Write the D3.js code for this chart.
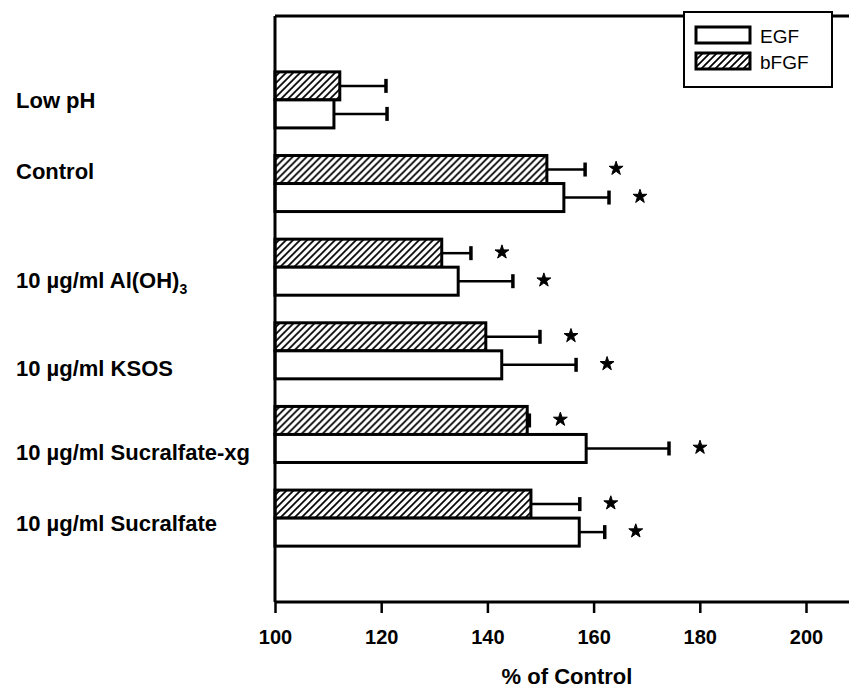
<!DOCTYPE html>
<html>
<head>
<meta charset="utf-8">
<script src="https://cdn.jsdelivr.net/npm/d3@7"></script>
<style>
  body { margin: 0; background: #fff; }
  svg text { font-family: "Liberation Sans", Arial, sans-serif; fill: #000; }
  .cat-label { font-size: 22px; font-weight: bold; }
  .x.axis text { font-size: 20px; font-weight: bold; }
  .x-title { font-size: 22px; font-weight: bold; }
  .legend text { font-size: 19px; }
</style>
</head>
<body>
<svg id="chart" width="849" height="688"></svg>
<script>
// Treatments, top to bottom
const categories = ['Low pH', 'Control', '10 µg/ml Al(OH)3', '10 µg/ml KSOS',
  '10 µg/ml Sucralfate-xg', '10 µg/ml Sucralfate'];
const series = ['bFGF', 'EGF'];

// % of control
const bfgfValues = [112.2, 151.2, 131.4, 139.7, 147.5, 148.2];
const bfgfErrors = [8.7, 7.2, 5.5, 10.2, 0.4, 9.2];
const egfValues = [111.1, 154.4, 134.5, 142.7, 158.6, 157.3];
const egfErrors = [10.0, 8.5, 10.3, 14.0, 15.6, 4.8];

// significance markers (*)
const bfgfStars = [false, true, true, true, true, true];
const egfStars = [false, true, true, true, true, true];

const xTicks = [100, 120, 140, 160, 180, 200];

// the row labels in the original sit a little off their bar pairs
const labelNudge = [0, -13, 13, 17, 18, 5];

const width = 849;
const margin = { top: 16, left: 275, bottom: 602 };

const svg = d3.select('#chart');

// Diagonal hatch for the bFGF bars
const defs = svg.append('defs');
defs.append('pattern')
  .attr('id', 'hatch')
  .attr('patternUnits', 'userSpaceOnUse')
  .attr('width', 7)
  .attr('height', 7)
  .append('path')
    .attr('d', 'M-1,8 L8,-1 M-1,1 L1,-1 M6,8 L8,6')
    .attr('stroke', '#000')
    .attr('stroke-width', 1.7);

// Build rows from the arrays
const rows = categories.map((c, i) => ({
  category: c,
  bFGF: { value: bfgfValues[i], error: bfgfErrors[i], star: bfgfStars[i] },
  EGF: { value: egfValues[i], error: egfErrors[i], star: egfStars[i] }
}));

const xScale = d3.scaleLinear()
  .domain([100, 200])
  .range([margin.left, 806]);

const yScale = d3.scaleBand()
  .domain(categories)
  .range([margin.top, margin.bottom])
  .paddingInner(0.33)
  .paddingOuter(0.668);

const subScale = d3.scaleBand()
  .domain(series)
  .range([0, yScale.bandwidth()]);

// Bars, error bars and stars
const groups = svg.append('g').attr('class', 'bars')
  .selectAll('g')
  .data(rows)
  .join('g')
    .attr('transform', (d) => `translate(0, ${ yScale(d.category) })`);

const items = groups.selectAll('g')
  .data((d) => series.map((s) => ({ key: s, ...d[s] })))
  .join('g');

items.append('rect')
  .attr('x', xScale(100))
  .attr('y', (d) => subScale(d.key))
  .attr('width', (d) => xScale(d.value) - xScale(100))
  .attr('height', subScale.bandwidth())
  .attr('fill', (d) => d.key === 'bFGF' ? 'url(#hatch)' : '#fff')
  .attr('stroke', '#000')
  .attr('stroke-width', 3);

const midY = (d) => subScale(d.key) + subScale.bandwidth() / 2;

items.append('line')
  .attr('x1', (d) => xScale(d.value))
  .attr('x2', (d) => xScale(d.value + d.error))
  .attr('y1', midY)
  .attr('y2', midY)
  .attr('stroke', '#000')
  .attr('stroke-width', 2.5);

items.append('line')
  .attr('x1', (d) => xScale(d.value + d.error))
  .attr('x2', (d) => xScale(d.value + d.error))
  .attr('y1', (d) => midY(d) - 7)
  .attr('y2', (d) => midY(d) + 7)
  .attr('stroke', '#000')
  .attr('stroke-width', 3.5);

items.filter((d) => d.star)
  .append('path')
    .attr('d', d3.symbol(d3.symbolStar, 60))
    .attr('transform', (d) => `translate(${ xScale(d.value + d.error) + 31 }, ${ midY(d) - 1 })`)
    .attr('fill', '#000')
    .attr('stroke', '#000')
    .attr('stroke-width', 1)
    .attr('stroke-linejoin', 'round');

// Frame: top border and left axis line
svg.append('line')
  .attr('x1', margin.left).attr('x2', width)
  .attr('y1', margin.top).attr('y2', margin.top)
  .attr('stroke', '#000').attr('stroke-width', 3);

svg.append('line')
  .attr('x1', margin.left).attr('x2', margin.left)
  .attr('y1', margin.top).attr('y2', margin.bottom)
  .attr('stroke', '#000').attr('stroke-width', 3);

// X axis
const xAxis = d3.axisBottom(xScale)
  .tickValues(xTicks)
  .tickSize(11)
  .tickSizeOuter(0)
  .tickPadding(17);

const xAxisElement = svg.append('g')
  .attr('class', 'x axis')
  .attr('transform', `translate(0, ${ margin.bottom })`)
  .call(xAxis);

xAxisElement.select('.domain')
  .attr('d', `M${ margin.left },0H${ width }`)
  .attr('stroke-width', 3);
xAxisElement.selectAll('.tick line').attr('stroke-width', 2.5);
xAxisElement.selectAll('text').attr('font-family', null).attr('font-size', null);

svg.append('text')
  .attr('class', 'x-title')
  .attr('x', (margin.left + width) / 2 + 5)
  .attr('y', 684)
  .attr('text-anchor', 'middle')
  .text('% of Control');

// Row labels, with a subscript for Al(OH)3
const labels = svg.append('g').selectAll('text')
  .data(categories)
  .join('text')
    .attr('class', 'cat-label')
    .attr('x', 16)
    .attr('y', (d, i) => yScale(d) + yScale.bandwidth() / 2 + labelNudge[i] + 8);

labels.each(function(d) {
  const el = d3.select(this);
  const m = d.match(/^(.*\))(\d)$/);
  if (m) {
    el.append('tspan').text(m[1]);
    el.append('tspan').attr('dy', 6).attr('font-size', 14).text(m[2]);
  } else {
    el.text(d);
  }
});

// Legend
const legend = svg.append('g').attr('class', 'legend');
legend.append('rect')
  .attr('x', 684).attr('y', 12)
  .attr('width', 148).attr('height', 75)
  .attr('fill', '#fff').attr('stroke', '#000').attr('stroke-width', 2);

const legendRows = legend.selectAll('g.item')
  .data(['EGF', 'bFGF'])
  .join('g')
    .attr('class', 'item')
    .attr('transform', (d, i) => `translate(696, ${ 27 + i * 26 })`);

legendRows.append('rect')
  .attr('width', 54).attr('height', 16)
  .attr('fill', (d) => d === 'bFGF' ? 'url(#hatch)' : '#fff')
  .attr('stroke', '#000').attr('stroke-width', 3);

legendRows.append('text')
  .attr('x', 64).attr('y', 16)
  .text((d) => d);
</script>
</body>
</html>
